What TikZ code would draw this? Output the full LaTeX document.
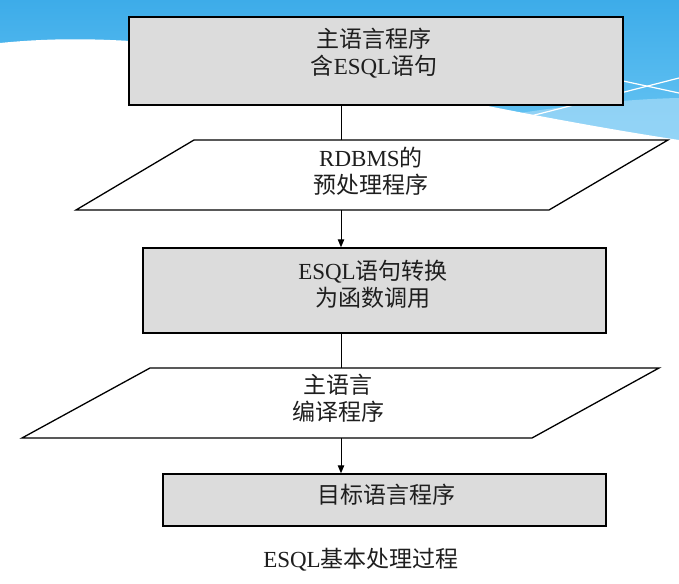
\documentclass[tikz,border=0pt]{standalone}
\usepackage{fontspec}
\setmainfont{Liberation Serif}
\newfontfamily\cjk{Noto Sans CJK SC}
\usetikzlibrary{arrows.meta}
\definecolor{skytop}{HTML}{3DACE9}
\definecolor{skybot}{HTML}{6AC6F4}
\definecolor{skyband}{HTML}{A6DBF8}
\definecolor{boxgray}{HTML}{DCDCDC}
\definecolor{ink}{HTML}{1E1E1E}
\newcommand\zh[1]{{\cjk #1}}
\begin{document}
\begin{tikzpicture}[x=1pt,y=-1pt,
  procbox/.style={draw=black, line width=1.5pt, fill=boxgray, inner sep=0pt},
  iobox/.style={draw=black, line width=1.3pt, fill=white, line join=miter},
  label text/.style={text=ink, align=center, inner sep=0pt,
    font=\fontsize{23}{27}\selectfont},
  conn/.style={draw=black, line width=1pt},
  arrowconn/.style={conn, -{Triangle[length=8pt,width=6.5pt]}}]
\useasboundingbox (0,0) rectangle (679,583);
% background decoration
\fill[top color=skytop, bottom color=skybot] (0,0) rectangle (679,145);
\fill[skyband, opacity=0.7] (500,116) .. controls (570,105) and (630,99) .. (679,98) -- (679,150) -- (500,150) -- cycle;
\fill[white] (0,43) .. controls (40,39) and (80,38) .. (130,41)
  .. controls (250,50) and (450,105) .. (679,140) -- (679,583) -- (0,583) -- cycle;
\draw[white, line width=1.2pt] (523,118) -- (679,78);
\draw[white, line width=1.2pt] (600,76) -- (679,93);
% boxes
\node[procbox, minimum width=494pt, minimum height=88pt] (b1) at (376,61) {};
\node[label text] (t1) at (374,53) {\zh{主语言程序}\\\zh{含}ESQL\zh{语句}};
\draw[iobox] (194,140) -- (668,140) -- (549,210) -- (76,210) -- cycle;
\coordinate (p1top) at (341,140);
\coordinate (p1bot) at (341,210);
\node[label text] (t2) at (371,171) {RDBMS\zh{的}\\\zh{预处理程序}};
\node[procbox, minimum width=463pt, minimum height=85pt] (b2) at (374.5,290.5) {};
\node[label text] (t3) at (373,284) {ESQL\zh{语句转换}\\\zh{为函数调用}};
\draw[iobox] (150,368) -- (659,368) -- (532,438) -- (22,438) -- cycle;
\coordinate (p2top) at (341,368);
\coordinate (p2bot) at (341,438);
\node[label text] (t4) at (338,398.5) {\zh{主语言}\\\zh{编译程序}};
\node[procbox, minimum width=443pt, minimum height=52pt] (b3) at (384.5,500) {};
\node[label text] (t5) at (386,495) {\zh{目标语言程序}};
\node[label text] (cap) at (361,560) {ESQL\zh{基本处理过程}};
% connectors
\draw[conn] (b1.south -| p1top) -- (p1top);
\draw[arrowconn] (p1bot) -- (b2.north -| p1bot);
\draw[conn] (b2.south -| p2top) -- (p2top);
\draw[arrowconn] (p2bot) -- (b3.north -| p2bot);
\end{tikzpicture}
\end{document}
